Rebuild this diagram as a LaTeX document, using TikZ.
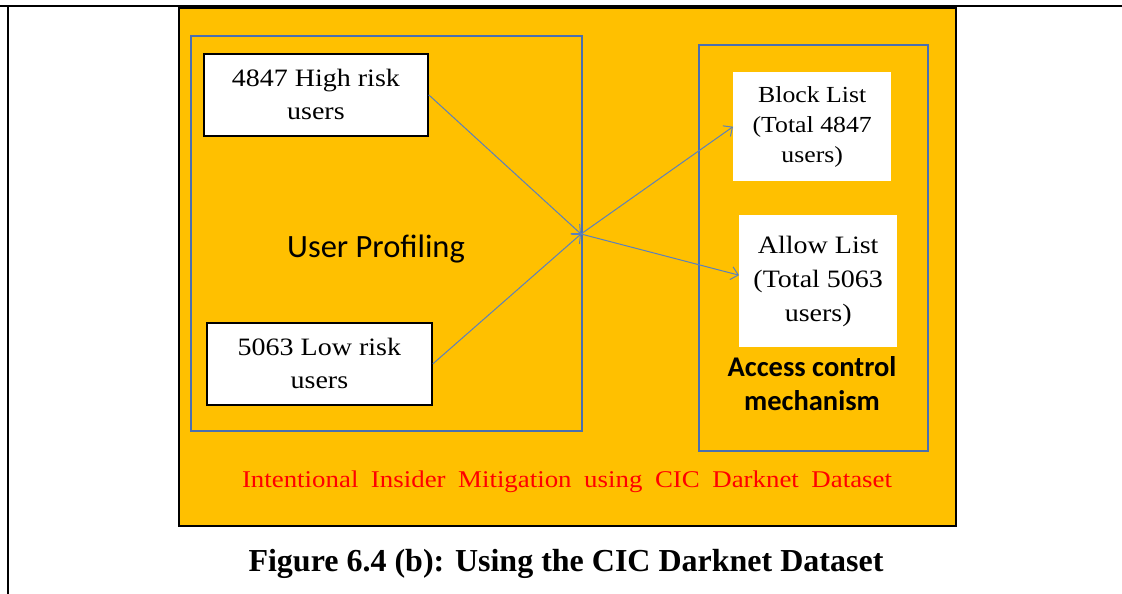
\documentclass[tikz,border=0pt]{standalone}
\usepackage{fontspec}
\setmainfont{Liberation Serif}
\newfontfamily\wideserif{Liberation Serif}[FakeStretch=1.12]
\newfontfamily\calibri{Carlito}
\usetikzlibrary{arrows.meta}
\definecolor{panelorange}{HTML}{FFC000}
\definecolor{frameblue}{HTML}{4A6FB0}
\definecolor{linkblue}{HTML}{5B80BD}
\tikzset{
  panel/.style={draw=black, line width=1.6pt, fill=panelorange, anchor=north west, inner sep=0pt},
  group/.style={draw=frameblue, line width=1.8pt, anchor=north west, inner sep=0pt},
  userbox/.style={draw=black, line width=1.8pt, fill=white, anchor=north west, inner sep=0pt,
    align=center, font=\wideserif\fontsize{25}{33}\selectfont},
  listbox/.style={fill=white, anchor=north west, inner sep=0pt, align=center},
  link/.style={draw=linkblue, line width=1pt, -{Straight Barb[length=7pt,width=13pt]}},
}
\begin{document}
\begin{tikzpicture}[x=1pt,y=-1pt]
\useasboundingbox (0,0) rectangle (1122,594);
% page rules
\draw[line width=2.6pt] (0,6) -- (1122,6);
\draw[line width=2.6pt] (8,6) -- (8,594);
% main panel
\node[panel, minimum width=777pt, minimum height=518pt] (panel) at (178,7) {};
% user profiling group
\node[group, minimum width=391pt, minimum height=395pt] (prof) at (190,35) {};
\node[font=\calibri\fontsize{32.5}{36}\selectfont] (proflabel) at (376,249) {User Profiling};
\node[userbox, minimum width=224pt, minimum height=82pt] (high) at (203,53) {4847 High risk\\users};
\node[userbox, minimum width=225pt, minimum height=82pt] (low) at (206,322) {5063 Low risk\\users};
% access control group
\node[group, minimum width=229pt, minimum height=406pt] (access) at (698,44) {};
\node[listbox, minimum width=158pt, minimum height=109pt, font=\wideserif\fontsize{23}{30}\selectfont] (block) at (733,72) {Block List\\(Total 4847\\users)};
\node[listbox, minimum width=158pt, minimum height=132pt, font=\wideserif\fontsize{25}{34}\selectfont] (allow) at (739,215) {Allow List\\(Total 5063\\users)};
\node[font=\calibri\bfseries\fontsize{28.5}{34}\selectfont, align=center] (acclabel) at (812,384) {Access control\\mechanism};
% flows
\coordinate (hub) at (581,234);
\draw[link] (high.east) -- (hub);
\draw[link] (low.east) -- (hub);
\draw[link] (hub) -- (block.west);
\draw[link] (hub) -- ([yshift=6pt]allow.west);
% panel title and caption
\node[text=red, font=\wideserif\fontsize{24}{28}\selectfont] (title) at (567,482) {\makebox[650pt][s]{Intentional Insider Mitigation using CIC Darknet Dataset}};
\node[font=\bfseries\fontsize{32}{36}\selectfont] (caption) at (566,564) {Figure 6.4 (b): Using the CIC Darknet Dataset};
\end{tikzpicture}
\end{document}
